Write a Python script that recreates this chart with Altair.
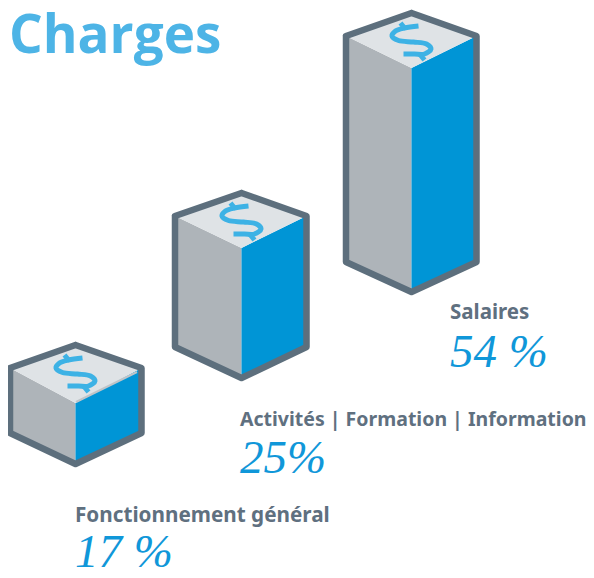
import altair as alt
import pandas as pd

# bars (in picture units)
categories = ["Fonctionnement général", "Activités | Formation | Information", "Salaires"]
percent_labels = ["17 %", "25%", "54 %"]
bar_left = [10, 175, 346]
bar_mid = [75.5, 241.5, 411.5]
bar_right = [141.5, 306.5, 476.5]
apex_y = [345, 193, 13]
shoulder_y = [368, 216, 36]
inner_y = [403, 248, 68]
side_base_y = [433, 347, 262]
mid_base_y = [464, 378, 292]

label_x = [75, 240, 450]
label_y = [522, 426, 319]
label_size = [20.7, 19.5, 20.5]
pct_x = [75, 240, 450]
pct_y = [567, 473, 367]

# dollar glyph outline, relative to each bar's apex
dollar_dx = [7, -7, -16, -19.5, -13, 2, 15, 19.5, 13, 3, -8]
dollar_dy = [13, 15, 18, 23, 27.5, 29, 31, 36, 41, 41, 41]
tick_dx = [[-11, -7], [8, 13]]
tick_dy = [[10, 15], [41, 47]]

# seam on the smallest bar, between its top and its blue side
seam_x = [76, 137]
seam_y = [402, 372]

X = alt.Scale(domain=[8, 586], range=[0, 578], nice=False, zero=False)
Y = alt.Scale(domain=[8, 570], range=[0, 562], nice=False, zero=False)
x = lambda f: alt.X(f, type="quantitative", scale=X, axis=None)
y = lambda f: alt.Y(f, type="quantitative", scale=Y, axis=None)

left_rows, right_rows, top_rows, out_rows, dollar_rows = [], [], [], [], []
for i, c in enumerate(categories):
    left_rows += [
        dict(bar=c, x=bar_left[i], y=shoulder_y[i], y2=side_base_y[i]),
        dict(bar=c, x=bar_mid[i], y=inner_y[i], y2=mid_base_y[i]),
    ]
    right_rows += [
        dict(bar=c, x=bar_mid[i], y=inner_y[i], y2=mid_base_y[i]),
        dict(bar=c, x=bar_right[i], y=shoulder_y[i], y2=side_base_y[i]),
    ]
    top_rows += [
        dict(bar=c, x=bar_left[i], y=shoulder_y[i], y2=shoulder_y[i]),
        dict(bar=c, x=bar_mid[i], y=apex_y[i], y2=inner_y[i]),
        dict(bar=c, x=bar_right[i], y=shoulder_y[i], y2=shoulder_y[i]),
    ]
    pts = [
        (bar_left[i], shoulder_y[i]), (bar_mid[i], apex_y[i]), (bar_right[i], shoulder_y[i]),
        (bar_right[i], side_base_y[i]), (bar_mid[i], mid_base_y[i]), (bar_left[i], side_base_y[i]),
        (bar_left[i], shoulder_y[i]), (bar_mid[i], apex_y[i]),
    ]
    for k, (px, py) in enumerate(pts):
        out_rows.append(dict(bar=c, k=k, x=px, y=py))
    for k, (dx, dy) in enumerate(zip(dollar_dx, dollar_dy)):
        dollar_rows.append(dict(seg=f"{c}-s", k=k, x=bar_mid[i] + dx, y=apex_y[i] + dy))
    for t in range(2):
        for k in range(2):
            dollar_rows.append(dict(seg=f"{c}-t{t}", k=k, x=bar_mid[i] + tick_dx[t][k], y=apex_y[i] + tick_dy[t][k]))


def face(rows, color):
    return alt.Chart(pd.DataFrame(rows)).mark_area(color=color, interpolate="linear", opacity=1).encode(
        x=x("x"), y=y("y"), y2="y2:Q", detail="bar:N"
    )


left_face = face(left_rows, "#aeb4b9")
right_face = face(right_rows, "#0095d6")
top_face = face(top_rows, "#dfe3e6")

seam = alt.Chart(pd.DataFrame({"x": seam_x, "y": seam_y})).mark_line(color="#bfc4c8", strokeWidth=2).encode(
    x=x("x"), y=y("y")
)

outline = alt.Chart(pd.DataFrame(out_rows)).mark_line(
    color="#5d6f7d", strokeWidth=6.5, strokeJoin="round", strokeCap="round"
).encode(x=x("x"), y=y("y"), detail="bar:N", order="k:Q")

dollar_df = pd.DataFrame(dollar_rows)
dollar = alt.Chart(dollar_df[dollar_df.seg.str.endswith("-s")]).mark_line(
    color="#3db2e5", strokeWidth=5, interpolate="catmull-rom"
).encode(x=x("x"), y=y("y"), detail="seg:N", order="k:Q")
ticks = alt.Chart(dollar_df[~dollar_df.seg.str.endswith("-s")]).mark_line(
    color="#3db2e5", strokeWidth=5
).encode(x=x("x"), y=y("y"), detail="seg:N", order="k:Q")

title = alt.Chart(pd.DataFrame({"t": ["Charges"], "x": [9], "y": [53]})).mark_text(
    align="left", baseline="alphabetic", font="Open Sans", fontWeight="bold", fontSize=53, color="#4db4e6"
).encode(x=x("x"), y=y("y"), text="t:N")

labels = alt.Chart(pd.DataFrame({"t": categories, "x": label_x, "y": label_y, "s": label_size})).mark_text(
    align="left", baseline="alphabetic", font="Noto Sans", fontWeight="bold", color="#5f7080"
).encode(
    x=x("x"), y=y("y"), text="t:N",
    size=alt.Size("s:Q", scale=None, legend=None),
)

pcts = alt.Chart(pd.DataFrame({"t": percent_labels, "x": pct_x, "y": pct_y})).mark_text(
    align="left", baseline="alphabetic", font="Liberation Serif", fontStyle="italic", fontSize=47, color="#1097d9"
).encode(x=x("x"), y=y("y"), text="t:N")

chart = alt.layer(left_face, right_face, top_face, seam, dollar, ticks, outline, title, labels, pcts).properties(
    width=578, height=562, padding=0, autosize=alt.AutoSizeParams(type="none"), background="white"
).configure_view(strokeWidth=0)

chart.save("out.html", embed_options={"renderer": "svg", "actions": False})
